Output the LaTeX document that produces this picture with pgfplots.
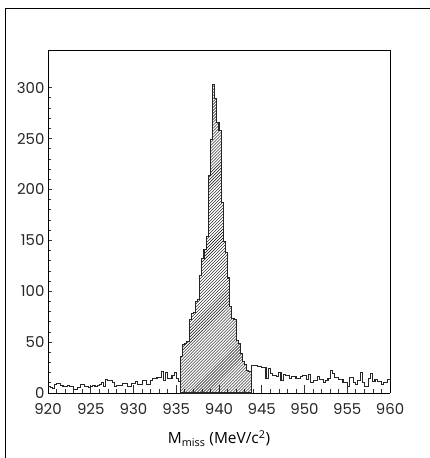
\documentclass[border=0pt]{standalone}
\usepackage{pgfplots}
\usepackage{pgfplotstable}
\usepackage{fontspec}
\pgfplotsset{compat=1.18}
\usetikzlibrary{patterns}
\setmainfont{Open Sans}
\newfontfamily\tickfont{Poppins}

% missing mass histogram, 0.25 MeV bins (left edge, counts)
\pgfplotstableread{
x y
920.00 6
920.25 5
920.50 4
920.75 8
921.00 9
921.25 9
921.50 7
921.75 6
922.00 6
922.25 7
922.50 6
922.75 6
923.00 3
923.25 3
923.50 5
923.75 8
924.00 8
924.25 6
924.50 6
924.75 5
925.00 6
925.25 7
925.50 6
925.75 7
926.00 8
926.25 10
926.50 6
926.75 13
927.00 12
927.25 12
927.50 10
927.75 6
928.00 7
928.25 7
928.50 7
928.75 9
929.00 9
929.25 6
929.50 6
929.75 9
930.00 9
930.25 11
930.50 8
930.75 8
931.00 12
931.25 12
931.50 8
931.75 8
932.00 12
932.25 14
932.50 14
932.75 15
933.00 15
933.25 21
933.50 12
933.75 20
934.00 14
934.25 14
934.50 17
934.75 20
935.00 14
935.25 11
935.50 36
935.75 48
936.00 49
936.25 51
936.50 72
936.75 78
937.00 79
937.25 90
937.50 92
937.75 115
938.00 132
938.25 141
938.50 154
938.75 214
939.00 249
939.25 303
939.50 289
939.75 266
940.00 258
940.25 187
940.50 149
940.75 138
941.00 113
941.25 85
941.50 73
941.75 72
942.00 52
942.25 49
942.50 39
942.75 31
943.00 28
943.25 22
943.50 21
943.75 27
944.00 27
944.25 27
944.50 26
944.75 26
945.00 25
945.25 25
945.50 14
945.75 24
946.00 19
946.25 17
946.50 17
946.75 16
947.00 20
947.25 12
947.50 18
947.75 17
948.00 17
948.25 14
948.50 16
948.75 16
949.00 14
949.25 14
949.50 16
949.75 17
950.00 17
950.25 13
950.50 18
950.75 10
951.00 12
951.25 12
951.50 16
951.75 13
952.00 13
952.25 10
952.50 12
952.75 14
953.00 22
953.25 19
953.50 15
953.75 15
954.00 13
954.25 13
954.50 10
954.75 10
955.00 6
955.25 15
955.50 15
955.75 10
956.00 8
956.25 12
956.50 20
956.75 10
957.00 6
957.25 6
957.50 14
957.75 19
958.00 11
958.25 13
958.50 11
958.75 11
959.00 8
959.25 10
959.50 10
959.75 13
960.00 13
}\histdata

\begin{document}
\begin{tikzpicture}
\useasboundingbox (-48bp,-65bp) rectangle (382bp,393bp);
% outer frame (left and top)
\draw[line width=0.9bp] (-43bp,-66bp) -- (-43bp,385bp) -- (383bp,385bp);
\begin{axis}[
    scale only axis,
    width=342bp, height=342bp,
    xmin=920, xmax=960,
    ymin=0, ymax=336,
    xtick={920,925,...,960},
    ytick={0,50,...,300},
    minor x tick num=4,
    minor y tick num=4,
    axis x line*=bottom,
    axis y line*=left,
    tick align=inside,
    major tick length=4bp,
    minor tick length=2.5bp,
    xtick style={/pgfplots/major tick length=8bp,/pgfplots/minor tick length=4bp},
    tick style={line width=0.7bp, black!80},
    axis line style={line width=1bp},
    /pgf/number format/assume math mode=true,
    /pgf/number format/1000 sep={},
    ticklabel style={font=\tickfont\fontsize{15}{16}\selectfont, text=black!85},
    xticklabel style={yshift=-7bp},
    xlabel={M\textsubscript{miss} (MeV/c\textsuperscript{2})},
    xlabel style={font=\fontsize{15.5}{17}\selectfont, at={(rel axis cs:0.5,0)}, anchor=center, yshift=-46bp},
    clip=false,
]
% hatched signal window
\addplot[const plot, draw=black!85, line width=1.1bp, pattern=north east lines,
    restrict x to domain=935.5:943.75] table {\histdata} \closedcycle;
% full histogram outline
\addplot[const plot, draw=black!85, line width=1.1bp] table {\histdata};
% close the box on top and right
\draw[line width=1bp] (rel axis cs:0,1) -- (rel axis cs:1,1) -- (rel axis cs:1,0);
\end{axis}
\end{tikzpicture}
\end{document}
